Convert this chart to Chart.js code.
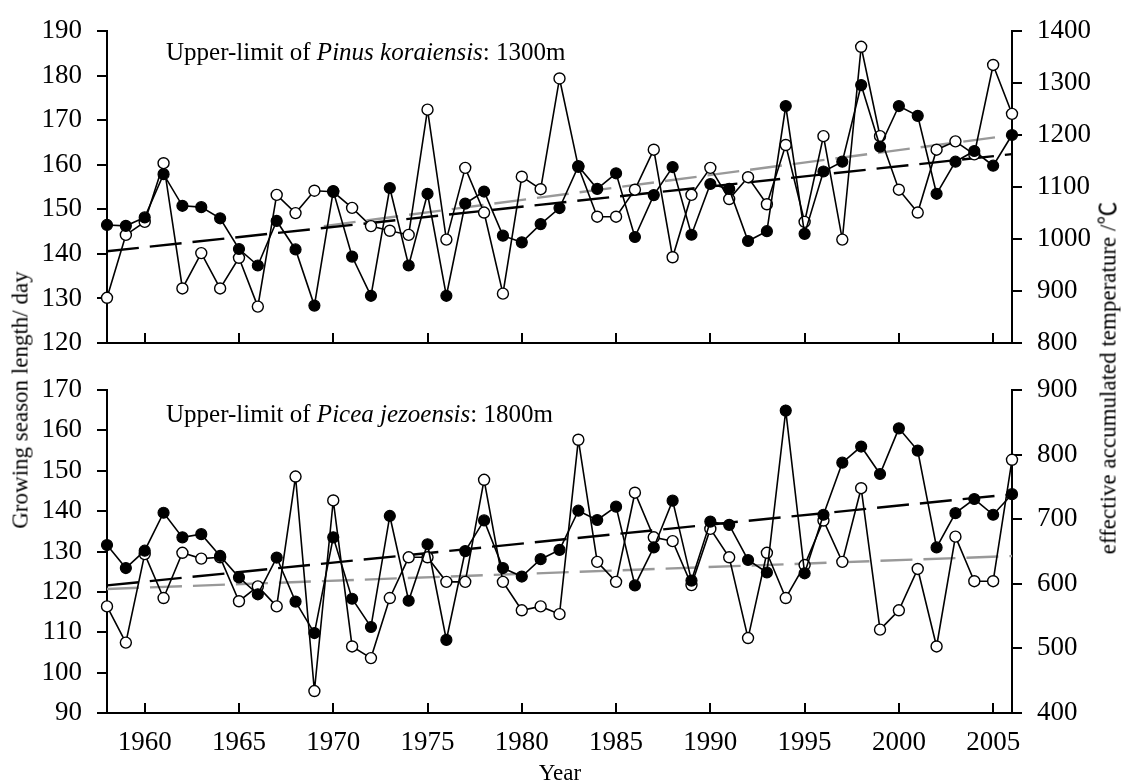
<!DOCTYPE html>
<html>
<head>
<meta charset="utf-8">
<script src="https://cdn.jsdelivr.net/npm/chart.js@4.4.1/dist/chart.umd.min.js"></script>
<style>
  html, body { margin: 0; padding: 0; background: #fff; }
  #wrap { position: relative; width: 1126px; height: 783px; overflow: hidden; font-family: "Liberation Serif", "Times New Roman", serif; color: #000; }
  canvas { position: absolute; left: 0; top: 0; }
  .txt { position: absolute; white-space: nowrap; font-family: "Liberation Serif", "Times New Roman", serif; }
  .rot { transform: translate(-50%, -50%) rotate(-90deg); }
  .cjk { font-family: "Noto Sans CJK SC", "Noto Sans CJK JP", sans-serif; }
</style>
</head>
<body>
<div id="wrap">
  <canvas id="c1" width="1126" height="783"></canvas>
  <canvas id="c2" width="1126" height="783"></canvas>
  <div class="txt" style="left:166px; top:39px; font-size:25px; line-height:25px;">Upper-limit of <i>Pinus koraiensis</i>: 1300m</div>
  <div class="txt" style="left:166px; top:401px; font-size:25px; line-height:25px;">Upper-limit of <i>Picea jezoensis</i>: 1800m</div>
  <div class="txt rot" style="left:20px; top:400px; font-size:23px; line-height:23px;">Growing season length/ day</div>
  <div class="txt rot" style="left:1107px; top:378px; font-size:23px; line-height:23px;">effective accumulated temperature /<span class="cjk">℃</span></div>
  <div class="txt" style="left:560px; top:772px; font-size:23px; line-height:23px; transform: translate(-50%, -50%);">Year</div>
</div>
<script>
// ---------- data ----------
const years = [1958,1959,1960,1961,1962,1963,1964,1965,1966,1967,1968,1969,1970,1971,1972,1973,1974,1975,1976,1977,1978,1979,1980,1981,1982,1983,1984,1985,1986,1987,1988,1989,1990,1991,1992,1993,1994,1995,1996,1997,1998,1999,2000,2001,2002,2003,2004,2005,2006];
const xTicks = [1960,1965,1970,1975,1980,1985,1990,1995,2000,2005];

// Upper panel: Pinus koraiensis 1300m
const topGrowth = [146.5,146.3,148.2,157.9,150.8,150.5,148.0,141.1,137.4,147.4,141.0,128.4,154.1,139.4,130.6,154.8,137.4,153.5,130.6,151.3,154.0,144.1,142.6,146.7,150.3,159.7,154.6,158.1,143.8,153.2,159.5,144.3,155.7,154.6,142.9,145.1,173.2,144.5,158.5,160.7,177.9,164.1,173.2,171.0,153.5,160.7,163.1,159.8,166.7];
const topTemp = [887,1008,1033,1146,905,973,905,964,870,1085,1050,1093,1091,1060,1025,1016,1008,1249,999,1137,1051,895,1120,1096,1309,1139,1043,1043,1095,1172,965,1085,1137,1077,1119,1067,1181,1033,1198,999,1370,1198,1095,1051,1172,1188,1163,1335,1241];
const topGrowthTrendYears = [1958, 2006];
const topGrowthTrend = [140.6, 162.4];
const topTempTrendYears = [1969.5, 2006];
const topTempTrend = [1025, 1200];

// Lower panel: Picea jezoensis 1800m
const botGrowth = [131.6,125.9,130.2,139.6,133.5,134.3,128.9,123.6,119.4,128.5,117.6,109.8,133.5,118.3,111.3,138.8,117.8,131.8,108.1,130.1,137.7,125.9,123.8,128.1,130.4,140.1,137.8,141.1,121.6,131.0,142.6,122.8,137.4,136.6,127.9,124.8,164.9,124.6,139.1,152.0,156.0,149.2,160.5,155.0,131.0,139.5,143.0,139.1,144.2];
const botTemp = [565,509,646,578,648,639,641,573,596,565,766,434,729,503,485,578,641,641,603,603,761,603,559,565,553,823,634,603,741,672,666,598,685,641,516,648,578,629,698,634,748,529,559,623,503,673,604,604,792];
const botGrowthTrendYears = [1958, 2006];
const botGrowthTrend = [121.6, 144.2];
const botTempTrendYears = [1958, 2006];
const botTempTrend = [592, 643];

const topLeftTicks = [120,130,140,150,160,170,180,190];
const topRightTicks = [800,900,1000,1100,1200,1300,1400];
const botLeftTicks = [90,100,110,120,130,140,150,160,170];
const botRightTicks = [400,500,600,700,800,900];

// ---------- helpers ----------
const W = 1126, H = 783;
const PLOT_L = 107, PLOT_R = 1012;
const FONT = "'Liberation Serif', 'Times New Roman', serif";
const pts = (xs, ys) => xs.map((x, i) => ({ x: x, y: ys[i] }));
const plain = v => String(v);

const innerTicks = {
  id: 'innerTicks',
  afterDraw(chart) {
    const xs = chart.scales.x, ctx = chart.ctx, yb = chart.chartArea.bottom;
    ctx.save();
    ctx.strokeStyle = '#000';
    ctx.lineWidth = 2;
    xTicks.forEach(v => {
      const px = Math.round(xs.getPixelForValue(v));
      ctx.beginPath();
      ctx.moveTo(px, yb);
      ctx.lineTo(px, yb - 10);
      ctx.stroke();
    });
    ctx.restore();
  }
};

function makeChart(id, cfg) {
  const growthDs = {
    label: 'Growing season length', data: pts(years, cfg.growth), yAxisID: 'yL',
    borderColor: '#000', borderWidth: 1.6, backgroundColor: '#000',
    pointRadius: 5.5, pointBackgroundColor: '#000', pointBorderColor: '#000', pointBorderWidth: 1.2,
    tension: 0, order: 0, clip: false
  };
  const tempDs = {
    label: 'Effective accumulated temperature', data: pts(years, cfg.temp), yAxisID: 'yR',
    borderColor: '#000', borderWidth: 1.6, backgroundColor: '#fff',
    pointRadius: 5.5, pointBackgroundColor: '#fff', pointBorderColor: '#000', pointBorderWidth: 1.4,
    tension: 0, order: 1, clip: false
  };
  const gTrend = {
    label: 'Growth trend', data: pts(cfg.gTrendYears, cfg.gTrend), yAxisID: 'yL',
    borderColor: '#000', borderWidth: 2.4, borderDash: [32, 11], pointRadius: 0,
    order: 2, clip: false
  };
  const tTrend = {
    label: 'Temperature trend', data: pts(cfg.tTrendYears, cfg.tTrend), yAxisID: 'yR',
    borderColor: '#999', borderWidth: 2.4, borderDash: [32, 11], pointRadius: 0,
    order: 3, clip: false
  };
  const tickFont = { family: FONT, size: 27 };
  return new Chart(document.getElementById(id), {
    type: 'line',
    data: { datasets: [growthDs, tempDs, gTrend, tTrend] },
    options: {
      responsive: false, animation: false, events: [],
      layout: { autoPadding: false, padding: { left: 0, right: 0, top: cfg.top, bottom: cfg.padBottom } },
      plugins: { legend: { display: false }, tooltip: { enabled: false } },
      scales: {
        x: {
          type: 'linear', min: 1958, max: 2006,
          afterBuildTicks: s => { s.ticks = xTicks.map(v => ({ value: v })); },
          afterFit: s => { s.height = cfg.xHeight; },
          ticks: { display: cfg.showXLabels, font: tickFont, color: '#000', padding: 14, maxRotation: 0, callback: plain },
          grid: { drawOnChartArea: false, drawTicks: false, color: '#000' },
          border: { display: true, color: '#000', width: 2 }
        },
        yL: {
          type: 'linear', position: 'left', min: cfg.lMin, max: cfg.lMax,
          afterBuildTicks: s => { s.ticks = cfg.lTicks.map(v => ({ value: v })); },
          afterFit: s => { s.width = PLOT_L; },
          ticks: { font: tickFont, color: '#000', padding: 15, callback: plain },
          grid: { drawOnChartArea: false, drawTicks: true, tickLength: 10, color: '#000', lineWidth: 2 },
          border: { display: true, color: '#000', width: 2 }
        },
        yR: {
          type: 'linear', position: 'right', min: cfg.rMin, max: cfg.rMax,
          afterBuildTicks: s => { s.ticks = cfg.rTicks.map(v => ({ value: v })); },
          afterFit: s => { s.width = W - PLOT_R; },
          ticks: { font: tickFont, color: '#000', padding: 15, callback: plain },
          grid: { drawOnChartArea: false, drawTicks: true, tickLength: 10, color: '#000', lineWidth: 2 },
          border: { display: true, color: '#000', width: 2 }
        }
      }
    },
    plugins: [innerTicks]
  });
}

makeChart('c1', {
  growth: topGrowth, temp: topTemp,
  gTrendYears: topGrowthTrendYears, gTrend: topGrowthTrend,
  tTrendYears: topTempTrendYears, tTrend: topTempTrend,
  top: 20, padBottom: H - 343, xHeight: 0, showXLabels: false,
  lMin: 120, lMax: 190, lTicks: topLeftTicks,
  rMin: 800, rMax: 1400, rTicks: topRightTicks
});
makeChart('c2', {
  growth: botGrowth, temp: botTemp,
  gTrendYears: botGrowthTrendYears, gTrend: botGrowthTrend,
  tTrendYears: botTempTrendYears, tTrend: botTempTrend,
  top: 390, padBottom: 0, xHeight: H - 713, showXLabels: true,
  lMin: 90, lMax: 170, lTicks: botLeftTicks,
  rMin: 400, rMax: 900, rTicks: botRightTicks
});
</script>
</body>
</html>
